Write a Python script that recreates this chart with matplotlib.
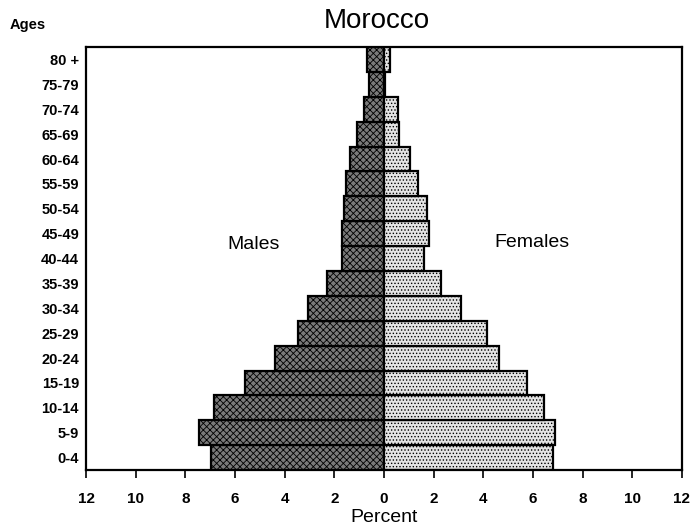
import matplotlib
matplotlib.use('Agg')
import matplotlib.pyplot as plt
import numpy as np

ages = ['0-4', '5-9', '10-14', '15-19', '20-24', '25-29', '30-34', '35-39',
        '40-44', '45-49', '50-54', '55-59', '60-64', '65-69', '70-74',
        '75-79', '80+']
males = [6.95, 7.45, 6.85, 5.6, 4.4, 3.45, 3.05, 2.3,
         1.7, 1.7, 1.6, 1.55, 1.35, 1.1, 0.8, 0.6, 0.7]
females = [6.8, 6.9, 6.45, 5.75, 4.65, 4.15, 3.1, 2.3,
           1.6, 1.8, 1.75, 1.35, 1.05, 0.6, 0.55, 0.05, 0.25]
xticks = [-12, -10, -8, -6, -4, -2, 0, 2, 4, 6, 8, 10, 12]

plt.rcParams['font.family'] = ['Liberation Sans', 'DejaVu Sans']
plt.rcParams['hatch.linewidth'] = 0.6

fig = plt.figure(figsize=(6.92, 5.29), dpi=100)
ax = fig.add_axes([0.1243, 0.1115, 0.8612, 0.7995])

y = np.arange(len(ages))
ax.barh(y, -np.array(males), height=1.0, color='#7a7a7a', edgecolor='black',
        linewidth=1.6, hatch='xxxxx')
ax.barh(y, females, height=1.0, color='#e4e4e4', edgecolor='black',
        linewidth=1.6, hatch='.....')

ax.set_xlim(-12, 12)
ax.set_ylim(-0.5, len(ages) - 0.5)
ax.set_xticks(xticks)
ax.set_xticklabels([str(abs(t)) for t in xticks], fontsize=11, fontweight='bold')
ax.set_yticks(y)
ax.set_yticklabels([a.replace('+', ' +') for a in ages], fontsize=10.5, fontweight='bold')
ax.tick_params(axis='y', length=0, pad=5)
ax.tick_params(axis='x', length=6, width=1.2, direction='out', pad=10)
for s in ax.spines.values():
    s.set_linewidth(1.6)

ax.text(-5.25, 8.55, 'Males', fontsize=14, ha='center', va='center')
ax.text(5.97, 8.65, 'Females', fontsize=14, ha='center', va='center')
ax.set_xlabel('Percent', fontsize=14, labelpad=2)
fig.text(0.545, 0.960, 'Morocco', fontsize=20, ha='center', va='center')
fig.text(0.014, 0.952, 'Ages', fontsize=10.5, fontweight='bold', ha='left', va='center')

fig.savefig('out.png', dpi=100)
